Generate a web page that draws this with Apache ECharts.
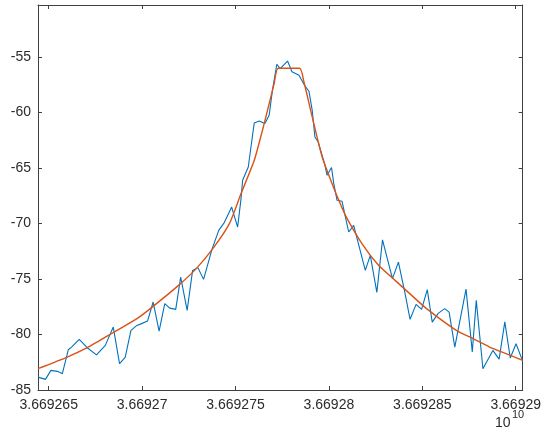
<!DOCTYPE html>
<html>
<head>
<meta charset="utf-8">
<script src="https://cdn.jsdelivr.net/npm/echarts@6/dist/echarts.min.js"></script>
<style>
  html, body { margin: 0; padding: 0; background: #fff; }
  #chart { width: 544px; height: 443px; }
</style>
</head>
<body>
<div id="chart"></div>
<script>
// Measured spectrum (frequency in Hz, power in dB)
const measFreq = [
  36692644250, 36692648240, 36692651170, 36692654630, 36692657290, 36692660490,
  36692662240, 36692666340, 36692670600, 36692675550, 36692680290, 36692684550,
  36692687900, 36692690930, 36692694020, 36692697220, 36692699340, 36692702910,
  36692705890, 36692709090, 36692712120, 36692714780, 36692717980, 36692720640,
  36692724100, 36692727020, 36692729850, 36692732880, 36692737510, 36692741020,
  36692744060, 36692747940, 36692749750, 36692751140, 36692752950, 36692753800,
  36692756830, 36692758270, 36692760030, 36692762690, 36692765720, 36692768010,
  36692769770, 36692772110, 36692773870, 36692777860, 36692780250, 36692783980,
  36692786910, 36692789300, 36692791060, 36692792500, 36692794250, 36692795530,
  36692797660, 36692799040, 36692801390, 36692802610, 36692804370, 36692807030,
  36692808840, 36692810600, 36692813260, 36692819480, 36692822150, 36692825660,
  36692828690, 36692834020, 36692837210, 36692840780, 36692843440, 36692846690,
  36692849610, 36692852650, 36692855310, 36692858500, 36692861960, 36692864360,
  36692867390, 36692873410, 36692876760, 36692878890, 36692882450, 36692887780,
  36692891130, 36692894170, 36692897090, 36692900180, 36692903750
];
const measPower = [
  -83.84, -84.04, -83.23, -83.32, -83.53, -81.37,
  -81.13, -80.44, -81.19, -81.84, -80.98, -79.33,
  -82.63, -82.06, -79.63, -79.18, -79.04, -78.79,
  -77.07, -79.69, -77.22, -77.62, -77.73, -74.82,
  -77.82, -74.22, -73.97, -75.03, -72.26, -70.61,
  -69.89, -68.51, -69.55, -70.31, -67.75, -66.10,
  -64.90, -63.10, -60.93, -60.75, -60.99, -60.24,
  -57.98, -55.64, -56.03, -55.35, -56.32, -56.63,
  -57.53, -58.07, -59.79, -62.20, -62.65, -63.39,
  -64.59, -65.65, -64.95, -66.40, -67.90, -67.99,
  -69.41, -70.76, -70.16, -74.22, -72.86, -76.20,
  -71.47, -74.96, -73.47, -76.32, -78.63, -77.28,
  -77.73, -75.96, -78.88, -78.09, -77.67, -77.98,
  -81.13, -75.91, -81.56, -76.92, -83.08, -81.43,
  -82.22, -78.86, -82.11, -80.83, -82.40
];

// Fitted line shape
const fitFreq = [
  36692644250, 36692659950, 36692670600, 36692684710, 36692697220, 36692705890,
  36692720100, 36692728990, 36692737830, 36692746720, 36692752950, 36692760030,
  36692765350, 36692770670, 36692772800, 36692784350, 36692786640, 36692791060,
  36692796380, 36692801710, 36692804900, 36692808840, 36692817680, 36692826560,
  36692835450, 36692844290, 36692852270, 36692868240, 36692877130, 36692886020,
  36692894860, 36692903750
];
const fitPower = [
  -83.07, -82.03, -81.19, -79.81, -78.57, -77.46,
  -75.48, -74.06, -72.26, -70.00, -67.30, -64.30,
  -60.99, -57.38, -56.00, -56.00, -57.24, -60.39,
  -64.00, -66.40, -67.75, -69.26, -71.81, -73.76,
  -75.12, -76.47, -77.67, -79.63, -80.37, -81.13,
  -81.73, -82.33
];

const freqMin = 36692644250;
const freqMax = 36692903750;
const powerMin = -85;
const powerMax = -50.3;
const powerStep = 5;

const pair = (xs, ys) => xs.map((x, i) => [x, ys[i]]);
const freqLabel = v => {
  let s = (v / 1e10).toFixed(6);
  s = s.replace(/0+$/, '').replace(/\.$/, '');
  return s;
};

const axisColor = '#404040';
const textColor = '#2b2b2b';
const fontFamily = '"Liberation Sans", Arial, Helvetica, sans-serif';

const chart = echarts.init(document.getElementById('chart'), null, { renderer: 'canvas' });
chart.setOption({
  animation: false,
  backgroundColor: '#ffffff',
  grid: { left: 38, right: 19, top: 5, bottom: 53, containLabel: false },
  xAxis: [
    {
      type: 'value', position: 'bottom', min: freqMin, max: freqMax, splitNumber: 5,
      axisLine: { show: true, onZero: false, lineStyle: { color: axisColor, width: 1 } },
      axisTick: { show: true, inside: true, length: 4, lineStyle: { color: axisColor } },
      axisLabel: {
        show: true, margin: 8, color: textColor, fontSize: 14, fontFamily,
        showMinLabel: false, showMaxLabel: false, formatter: freqLabel
      },
      splitLine: { show: false }
    },
    {
      type: 'value', position: 'top', min: freqMin, max: freqMax, splitNumber: 5,
      axisLine: { show: true, onZero: false, lineStyle: { color: axisColor, width: 1 } },
      axisTick: { show: true, inside: true, length: 4, lineStyle: { color: axisColor } },
      axisLabel: { show: false },
      splitLine: { show: false }
    }
  ],
  yAxis: [
    {
      type: 'value', position: 'left', min: powerMin, max: powerMax, interval: powerStep,
      axisLine: { show: true, onZero: false, lineStyle: { color: axisColor, width: 1 } },
      axisTick: { show: true, inside: true, length: 4, lineStyle: { color: axisColor } },
      axisLabel: {
        show: true, margin: 7, color: textColor, fontSize: 14, fontFamily,
        showMaxLabel: false
      },
      splitLine: { show: false }
    },
    {
      type: 'value', position: 'right', min: powerMin, max: powerMax, interval: powerStep,
      axisLine: { show: true, onZero: false, lineStyle: { color: axisColor, width: 1 } },
      axisTick: { show: true, inside: true, length: 4, lineStyle: { color: axisColor } },
      axisLabel: { show: false },
      splitLine: { show: false }
    }
  ],
  series: [
    {
      name: 'measured', type: 'line', xAxisIndex: 0, yAxisIndex: 0,
      data: pair(measFreq, measPower),
      showSymbol: false, symbol: 'none',
      lineStyle: { color: '#0072BD', width: 1.1 },
      z: 2
    },
    {
      name: 'fit', type: 'line', xAxisIndex: 0, yAxisIndex: 0,
      data: pair(fitFreq, fitPower),
      showSymbol: false, symbol: 'none', smooth: 0.2,
      lineStyle: { color: '#D95319', width: 1.4 },
      z: 3
    }
  ],
  // axis exponent shown under the right end of the frequency axis
  graphic: [
    {
      type: 'text', left: 495, top: 416,
      style: { text: '10', fontSize: 14, fontFamily, fill: textColor }
    },
    {
      type: 'text', left: 512, top: 409,
      style: { text: '10', fontSize: 11, fontFamily, fill: textColor }
    }
  ]
});
</script>
</body>
</html>
